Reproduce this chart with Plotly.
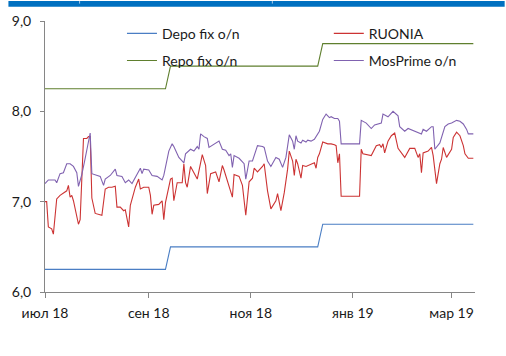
import plotly.graph_objects as go

# Policy corridor: deposit and repo fixed rates (step changes)
corridor_dates = ["2018-07-01", "2018-09-11", "2018-09-14", "2018-12-11", "2018-12-14", "2019-03-14"]
depo_fix = [6.25, 6.25, 6.50, 6.50, 6.75, 6.75]
repo_fix = [8.25, 8.25, 8.50, 8.50, 8.75, 8.75]

# RUONIA overnight rate
ruonia_dates = [
    "2018-07-01", "2018-07-02", "2018-07-03", "2018-07-05", "2018-07-06", "2018-07-08", "2018-07-10",
    "2018-07-12", "2018-07-14", "2018-07-15", "2018-07-16", "2018-07-17", "2018-07-18", "2018-07-21",
    "2018-07-22", "2018-07-24", "2018-07-26", "2018-07-27", "2018-07-28", "2018-07-29", "2018-07-31",
    "2018-08-04", "2018-08-06", "2018-08-08", "2018-08-10", "2018-08-12", "2018-08-13", "2018-08-15",
    "2018-08-17", "2018-08-18", "2018-08-19", "2018-08-20", "2018-08-21", "2018-08-24", "2018-08-26",
    "2018-08-27", "2018-08-29", "2018-09-01", "2018-09-02", "2018-09-03", "2018-09-04", "2018-09-07",
    "2018-09-09", "2018-09-10", "2018-09-11", "2018-09-12", "2018-09-14", "2018-09-15", "2018-09-16",
    "2018-09-18", "2018-09-21", "2018-09-22", "2018-09-23", "2018-09-24", "2018-09-26", "2018-09-28",
    "2018-09-30", "2018-10-02", "2018-10-03", "2018-10-05", "2018-10-06", "2018-10-08", "2018-10-11",
    "2018-10-13", "2018-10-15", "2018-10-16", "2018-10-18", "2018-10-21", "2018-10-22", "2018-10-25",
    "2018-10-27", "2018-10-29", "2018-10-31", "2018-11-02", "2018-11-03", "2018-11-05", "2018-11-08",
    "2018-11-09", "2018-11-11", "2018-11-13", "2018-11-16", "2018-11-17", "2018-11-19", "2018-11-21",
    "2018-11-23", "2018-11-24", "2018-11-26", "2018-11-27", "2018-11-28", "2018-11-29", "2018-12-01",
    "2018-12-02", "2018-12-04", "2018-12-07", "2018-12-09", "2018-12-10", "2018-12-11", "2018-12-12",
    "2018-12-14", "2018-12-17", "2018-12-19", "2018-12-21", "2018-12-22", "2018-12-23", "2018-12-24",
    "2018-12-25", "2019-01-05", "2019-01-06", "2019-01-07", "2019-01-12", "2019-01-15", "2019-01-17",
    "2019-01-18", "2019-01-19", "2019-01-20", "2019-01-22", "2019-01-24", "2019-01-26", "2019-01-28",
    "2019-02-01", "2019-02-04", "2019-02-07", "2019-02-09", "2019-02-10", "2019-02-11", "2019-02-12",
    "2019-02-15", "2019-02-17", "2019-02-18", "2019-02-20", "2019-02-22", "2019-02-23", "2019-02-24",
    "2019-02-26", "2019-03-01", "2019-03-02", "2019-03-04", "2019-03-06", "2019-03-08", "2019-03-09",
    "2019-03-11", "2019-03-14",
]
ruonia = [
    7.00, 7.00, 6.72, 6.70, 6.64, 7.03, 7.07,
    7.10, 7.12, 7.18, 7.05, 7.07, 7.01, 6.75,
    6.80, 7.70, 7.70, 7.72, 7.72, 7.04, 6.87,
    6.85, 7.14, 7.16, 7.16, 7.17, 6.94, 6.94,
    6.90, 6.91, 6.83, 6.72, 6.96, 7.16, 7.25,
    7.14, 7.16, 7.16, 7.07, 6.86, 6.96, 6.97,
    7.01, 6.80, 6.99, 7.07, 7.25, 7.26, 7.01,
    7.21, 7.21, 7.42, 7.21, 7.16, 7.39, 7.32,
    7.25, 7.43, 7.52, 7.40, 7.09, 7.31, 7.33,
    7.22, 7.40, 7.35, 7.23, 7.05, 7.30, 7.28,
    7.18, 6.85, 7.22, 7.26, 7.37, 7.33, 7.39,
    7.42, 7.12, 6.92, 7.01, 7.09, 6.90, 7.10,
    7.36, 7.56, 7.45, 7.29, 7.47, 7.42, 7.26,
    7.40, 7.39, 7.41, 7.43, 7.37, 7.49, 7.53,
    7.66, 7.64, 7.64, 7.63, 7.62, 7.43, 7.53,
    7.06, 7.06, 7.58, 7.53, 7.51, 7.62, 7.63,
    7.60, 7.64, 7.54, 7.67, 7.73, 7.76, 7.59,
    7.49, 7.59, 7.59, 7.49, 7.53, 7.32, 7.54,
    7.56, 7.60, 7.51, 7.20, 7.42, 7.47, 7.60,
    7.49, 7.58, 7.71, 7.77, 7.73, 7.62, 7.53,
    7.48, 7.48,
]

# MosPrime overnight rate
mosprime_dates = [
    "2018-07-01", "2018-07-03", "2018-07-07", "2018-07-08", "2018-07-10", "2018-07-12", "2018-07-14",
    "2018-07-16", "2018-07-18", "2018-07-19", "2018-07-20", "2018-07-21", "2018-07-23", "2018-07-25",
    "2018-07-27", "2018-07-28", "2018-07-29", "2018-08-01", "2018-08-03", "2018-08-05", "2018-08-06",
    "2018-08-09", "2018-08-12", "2018-08-13", "2018-08-16", "2018-08-18", "2018-08-20", "2018-08-22",
    "2018-08-24", "2018-08-27", "2018-08-28", "2018-08-29", "2018-09-01", "2018-09-03", "2018-09-06",
    "2018-09-09", "2018-09-10", "2018-09-13", "2018-09-15", "2018-09-16", "2018-09-19", "2018-09-22",
    "2018-09-23", "2018-09-26", "2018-09-28", "2018-09-30", "2018-10-01", "2018-10-02", "2018-10-04",
    "2018-10-06", "2018-10-07", "2018-10-10", "2018-10-13", "2018-10-15", "2018-10-17", "2018-10-19",
    "2018-10-20", "2018-10-21", "2018-10-22", "2018-10-25", "2018-10-28", "2018-10-29", "2018-10-31",
    "2018-11-02", "2018-11-05", "2018-11-08", "2018-11-09", "2018-11-11", "2018-11-13", "2018-11-16",
    "2018-11-18", "2018-11-20", "2018-11-22", "2018-11-24", "2018-11-26", "2018-11-27", "2018-11-28",
    "2018-11-29", "2018-12-01", "2018-12-02", "2018-12-04", "2018-12-05", "2018-12-07", "2018-12-09",
    "2018-12-12", "2018-12-14", "2018-12-16", "2018-12-18", "2018-12-19", "2018-12-21", "2018-12-23",
    "2018-12-24", "2018-12-25", "2019-01-05", "2019-01-06", "2019-01-09", "2019-01-12", "2019-01-14",
    "2019-01-18", "2019-01-19", "2019-01-22", "2019-01-25", "2019-01-26", "2019-01-28", "2019-01-29",
    "2019-02-01", "2019-02-03", "2019-02-07", "2019-02-11", "2019-02-12", "2019-02-14", "2019-02-17",
    "2019-02-18", "2019-02-19", "2019-02-21", "2019-02-22", "2019-02-25", "2019-02-27", "2019-03-01",
    "2019-03-04", "2019-03-06", "2019-03-08", "2019-03-10", "2019-03-11", "2019-03-14",
]
mosprime = [
    7.20, 7.24, 7.24, 7.21, 7.31, 7.32, 7.42,
    7.42, 7.39, 7.36, 7.32, 7.17, 7.30, 7.48,
    7.68, 7.76, 7.31, 7.29, 7.28, 7.18, 7.25,
    7.29, 7.36, 7.29, 7.28, 7.21, 7.24, 7.20,
    7.27, 7.37, 7.31, 7.36, 7.35, 7.29, 7.28,
    7.24, 7.29, 7.56, 7.64, 7.61, 7.49, 7.43,
    7.53, 7.58, 7.56, 7.61, 7.58, 7.75, 7.72,
    7.70, 7.60, 7.64, 7.67, 7.58, 7.57, 7.51,
    7.53, 7.38, 7.51, 7.48, 7.42, 7.25, 7.45,
    7.45, 7.62, 7.61, 7.60, 7.45, 7.39, 7.49,
    7.47, 7.38, 7.49, 7.74, 7.67, 7.58, 7.73,
    7.67, 7.65, 7.68, 7.66, 7.68, 7.67, 7.69,
    7.78, 7.91, 7.97, 7.93, 7.94, 7.92, 7.92,
    7.89, 7.64, 7.64, 7.90, 7.87, 7.81, 7.85,
    7.87, 7.97, 7.94, 8.00, 7.98, 7.95, 7.83,
    7.78, 7.81, 7.78, 7.75, 7.80, 7.78, 7.83,
    7.83, 7.58, 7.62, 7.65, 7.83, 7.86, 7.87,
    7.90, 7.89, 7.86, 7.80, 7.75, 7.75,
]

# Axis ticks
x_tick_dates = ["2018-07-01", "2018-09-01", "2018-11-01", "2019-01-01", "2019-03-01"]
x_tick_labels = ["июл 18", "сен 18", "ноя 18", "янв 19", "мар 19"]
y_tick_values = [6, 7, 8, 9]
y_tick_labels = ["6,0", "7,0", "8,0", "9,0"]

FONT = "Lato"
AXIS_GREY = "#868686"
TEXT = "#1a1a1a"

fig = go.Figure()
fig.add_trace(go.Scatter(x=corridor_dates, y=depo_fix, name="Depo fix o/n", mode="lines",
                         line=dict(color="#4A7EC4", width=1.1), legend="legend", legendgroup="a"))
fig.add_trace(go.Scatter(x=corridor_dates, y=repo_fix, name="Repo fix o/n", mode="lines",
                         line=dict(color="#5F7F2E", width=1.1), legend="legend", legendgroup="b"))
fig.add_trace(go.Scatter(x=ruonia_dates, y=ruonia, name="RUONIA", mode="lines",
                         line=dict(color="#CC3333", width=1.1), legend="legend2", legendgroup="c"))
fig.add_trace(go.Scatter(x=mosprime_dates, y=mosprime, name="MosPrime o/n", mode="lines",
                         line=dict(color="#8062B0", width=1.1), legend="legend2", legendgroup="d"))

legend_common = dict(
    orientation="v", xanchor="left", yanchor="top", y=1.012,
    bgcolor="rgba(0,0,0,0)", borderwidth=0,
    font=dict(family=FONT, size=14, color=TEXT),
    tracegroupgap=6, itemclick=False,
)

fig.update_layout(
    width=506, height=356,
    margin=dict(l=40, r=31, t=20, b=64),
    paper_bgcolor="white", plot_bgcolor="white",
    font=dict(family=FONT, size=14, color=TEXT),
    legend=dict(x=0.179, **legend_common),
    legend2=dict(x=0.66, **legend_common),
    xaxis=dict(
        type="date", range=["2018-07-01", "2019-03-15"],
        tickmode="array", tickvals=x_tick_dates, ticktext=x_tick_labels,
        showline=True, linecolor=AXIS_GREY, linewidth=1,
        ticks="outside", ticklen=5, tickcolor=AXIS_GREY,
        ticklabelstandoff=3,
        showgrid=False, zeroline=False,
        tickfont=dict(family=FONT, size=14, color=TEXT),
    ),
    yaxis=dict(
        range=[6, 9], tickmode="array", tickvals=y_tick_values, ticktext=y_tick_labels,
        showline=True, linecolor=AXIS_GREY, linewidth=1,
        ticks="outside", ticklen=4, tickcolor=AXIS_GREY,
        ticklabelstandoff=6,
        showgrid=False, zeroline=False,
        tickfont=dict(family=FONT, size=14, color=TEXT),
    ),
    showlegend=True,
)

# Header band across the top of the page
fig.add_shape(type="rect", xref="paper", yref="paper",
              x0=(3 - 40) / 435, x1=(505 - 40) / 435, y0=(292 - 5.7) / 272, y1=(292 - 0) / 272,
              fillcolor="#0070C0", line_width=0, layer="above")
for px in (75, 270):
    fig.add_shape(type="line", xref="paper", yref="paper",
                  x0=(px - 40) / 435, x1=(px - 40) / 435, y0=(292 - 2.5) / 272, y1=(292 - 0) / 272,
                  line=dict(color="#A9CBEA", width=1), layer="above")

fig.write_html("out.html")
